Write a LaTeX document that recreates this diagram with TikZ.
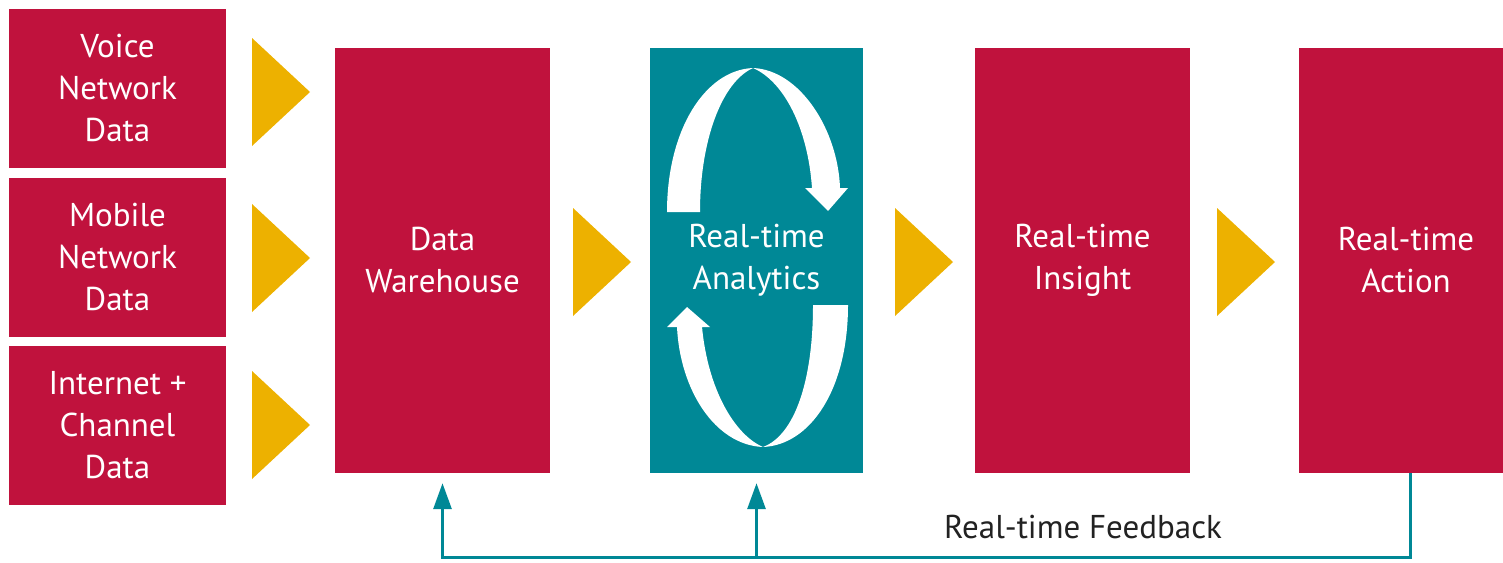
\documentclass[tikz,border=0pt]{standalone}
\usepackage{fontspec}
\setmainfont{PT Sans}
\usepackage{xcolor}
\usetikzlibrary{arrows.meta}
\definecolor{crimson}{HTML}{C0123D}
\definecolor{petrol}{HTML}{008896}
\definecolor{amber}{HTML}{EDB100}
\definecolor{ink}{HTML}{222222}
\begin{document}
\begin{tikzpicture}[x=1pt,y=-1pt,
    box/.style={rectangle,inner sep=0pt,text=white,align=center,
        font=\fontsize{33}{42}\selectfont},
    redbox/.style={box,fill=crimson},
    tealbox/.style={box,fill=petrol},
    feedback/.style={draw=petrol,line width=3pt},
    fbtip/.style={-{Triangle[width=18pt,length=26pt]}}
]
    \useasboundingbox (0,0) rectangle (1503,562);
    % sources
    \node[redbox,minimum width=217pt,minimum height=159pt](voice) at (117.5,88.5) {Voice\\Network\\Data};
    \node[redbox,minimum width=217pt,minimum height=159pt](mobile) at (117.5,257.5) {Mobile\\Network\\Data};
    \node[redbox,minimum width=217pt,minimum height=159pt](internet) at (117.5,425.5) {Internet +\\Channel\\Data};
    % main chain
    \node[redbox,minimum width=215pt,minimum height=425pt](dw) at (442.5,260.5) {Data\\Warehouse};
    \node[tealbox,minimum width=213pt,minimum height=425pt](an) at (756.5,260.5) {Real-time\\Analytics};
    \node[redbox,minimum width=215pt,minimum height=425pt](insight) at (1082.5,260.5) {Real-time\\Insight};
    \node[redbox,minimum width=204pt,minimum height=425pt](action) at (1401,260.5) {\hspace*{10pt}Real-time\\\hspace*{10pt}Action};
    % yellow triangles
    \foreach \x/\y in {252/92, 252/258, 252/425, 573/262, 895/262, 1217/262}
        \fill[amber] (\x,\y-54) -- (\x+58,\y) -- (\x,\y+54) -- cycle;
    % circular arrows
    \fill[white] (667,212) .. controls (667,130) and (705,70) .. (753,68)
        .. controls (800,70) and (838,130) .. (840,188) -- (848,188) -- (828,211) -- (805,188) -- (812,188)
        .. controls (808,130) and (785,82) .. (753,68)
        .. controls (722,82) and (700,140) .. (700,212) -- cycle;
    \fill[white] (848,305) .. controls (848,390) and (810,445) .. (763,447)
        .. controls (715,445) and (680,390) .. (677,327) -- (667,327) -- (687,307) -- (710,327) -- (702,327)
        .. controls (708,390) and (735,435) .. (763,447)
        .. controls (795,435) and (813,380) .. (813,305) -- cycle;
    % feedback loop
    \coordinate (fbR) at (1410,557);
    \coordinate (dwfb) at ([yshift=-10pt]dw.south);
    \coordinate (anfb) at ([yshift=-10pt]an.south);
    \draw[feedback,fbtip] (action.south -| fbR) -- (fbR) -| (dwfb);
    \draw[feedback,fbtip] (anfb |- fbR) -- (anfb);
    \node[text=ink,font=\fontsize{33}{42}\selectfont](fblabel) at (1083,527) {Real-time Feedback};
\end{tikzpicture}
\end{document}
